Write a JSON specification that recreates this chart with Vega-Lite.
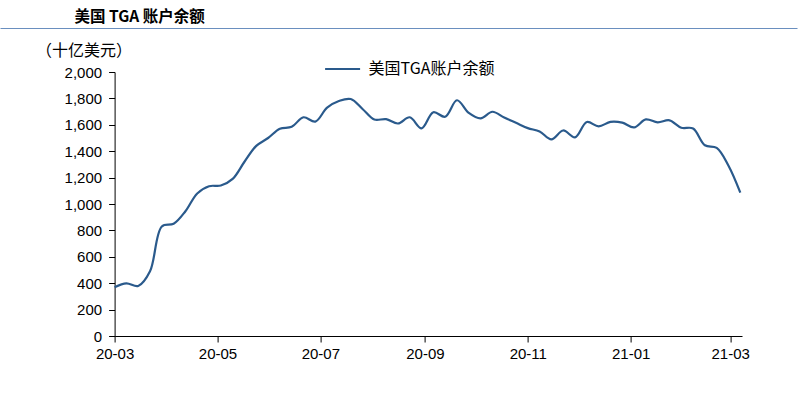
{
  "$schema": "https://vega.github.io/schema/vega-lite/v6.json",
  "width": 627.4,
  "height": 264,
  "autosize": {"type": "none"},
  "padding": {"left": 114.6, "top": 72, "right": 58, "bottom": 58},
  "background": "white",
  "title": {
    "text": "美国 TGA 账户余额",
    "anchor": "start",
    "frame": "group",
    "font": "Noto Sans CJK SC",
    "fontSize": 15.5,
    "fontWeight": "bold",
    "color": "#000000",
    "dx": -40,
    "offset": 3
  },
  "config": {
    "view": {"stroke": null},
    "axis": {"grid": false, "domainColor": "#000000", "tickColor": "#000000", "labelColor": "#000000", "labelFont": "Liberation Sans", "labelFontSize": 15}
  },
  "data": {
    "values": [
      {"date": "2020-03-04", "value": 370},
      {"date": "2020-03-11", "value": 399},
      {"date": "2020-03-18", "value": 379},
      {"date": "2020-03-25", "value": 490},
      {"date": "2020-04-01", "value": 830},
      {"date": "2020-04-08", "value": 850},
      {"date": "2020-04-15", "value": 945},
      {"date": "2020-04-22", "value": 1080},
      {"date": "2020-04-29", "value": 1135},
      {"date": "2020-05-06", "value": 1140},
      {"date": "2020-05-13", "value": 1190},
      {"date": "2020-05-20", "value": 1320},
      {"date": "2020-05-27", "value": 1440},
      {"date": "2020-06-03", "value": 1500},
      {"date": "2020-06-10", "value": 1570},
      {"date": "2020-06-17", "value": 1585},
      {"date": "2020-06-24", "value": 1657},
      {"date": "2020-07-01", "value": 1624},
      {"date": "2020-07-08", "value": 1730},
      {"date": "2020-07-15", "value": 1780},
      {"date": "2020-07-22", "value": 1795},
      {"date": "2020-07-29", "value": 1720},
      {"date": "2020-08-05", "value": 1640},
      {"date": "2020-08-12", "value": 1643},
      {"date": "2020-08-19", "value": 1610},
      {"date": "2020-08-26", "value": 1657},
      {"date": "2020-09-02", "value": 1573},
      {"date": "2020-09-09", "value": 1695},
      {"date": "2020-09-16", "value": 1661},
      {"date": "2020-09-23", "value": 1786},
      {"date": "2020-09-30", "value": 1690},
      {"date": "2020-10-07", "value": 1649},
      {"date": "2020-10-14", "value": 1699},
      {"date": "2020-10-21", "value": 1655},
      {"date": "2020-10-28", "value": 1615},
      {"date": "2020-11-04", "value": 1575},
      {"date": "2020-11-11", "value": 1550},
      {"date": "2020-11-18", "value": 1490},
      {"date": "2020-11-25", "value": 1557},
      {"date": "2020-12-02", "value": 1505},
      {"date": "2020-12-09", "value": 1621},
      {"date": "2020-12-16", "value": 1588},
      {"date": "2020-12-23", "value": 1622},
      {"date": "2020-12-30", "value": 1616},
      {"date": "2021-01-06", "value": 1580},
      {"date": "2021-01-13", "value": 1641},
      {"date": "2021-01-20", "value": 1619},
      {"date": "2021-01-27", "value": 1634},
      {"date": "2021-02-03", "value": 1578},
      {"date": "2021-02-10", "value": 1572},
      {"date": "2021-02-17", "value": 1445},
      {"date": "2021-02-24", "value": 1425},
      {"date": "2021-03-03", "value": 1290},
      {"date": "2021-03-10", "value": 1086}
    ]
  },
  "layer": [
    {
      "mark": {"type": "line", "interpolate": "catmull-rom", "strokeWidth": 2.2},
      "encoding": {
        "x": {
          "field": "date",
          "type": "temporal",
          "scale": {
            "type": "utc",
            "domain": [
              {"year": 2020, "month": 3, "date": 4, "utc": true},
              {"year": 2021, "month": 3, "date": 11, "utc": true}
            ]
          },
          "axis": {
            "title": null,
            "format": "%y-%m",
            "values": [
              {"year": 2020, "month": 3, "date": 4, "utc": true},
              {"year": 2020, "month": 5, "date": 4, "utc": true},
              {"year": 2020, "month": 7, "date": 4, "utc": true},
              {"year": 2020, "month": 9, "date": 4, "utc": true},
              {"year": 2020, "month": 11, "date": 4, "utc": true},
              {"year": 2021, "month": 1, "date": 4, "utc": true},
              {"year": 2021, "month": 3, "date": 4, "utc": true}
            ],
            "tickSize": 6,
            "labelPadding": 4,
            "labelFlush": false,
            "labelOverlap": false
          }
        },
        "y": {
          "field": "value",
          "type": "quantitative",
          "scale": {"domain": [0, 2000]},
          "axis": {
            "values": [0, 200, 400, 600, 800, 1000, 1200, 1400, 1600, 1800, 2000],
            "format": ",.0f",
            "tickSize": 6,
            "labelPadding": 7,
            "title": "（十亿美元）",
            "titleAngle": 0,
            "titleX": -31,
            "titleY": -22,
            "titleAlign": "center",
            "titleBaseline": "middle",
            "titleFont": "Noto Sans CJK SC",
            "titleFontSize": 16,
            "titleFontWeight": "normal",
            "titleColor": "#000000"
          }
        },
        "color": {
          "datum": "美国TGA账户余额",
          "type": "nominal",
          "scale": {"range": ["#2A5A8C"]},
          "legend": {
            "title": null,
            "orient": "none",
            "legendX": 209,
            "legendY": -22,
            "symbolType": "stroke",
            "symbolSize": 1225,
            "symbolStrokeWidth": 2.2,
            "labelFont": "Noto Sans CJK SC",
            "labelFontSize": 16,
            "labelColor": "#000000",
            "labelOffset": 7
          }
        }
      }
    },
    {
      "mark": {"type": "rule", "opacity": 0},
      "encoding": {
        "x": {
          "datum": 0,
          "type": "quantitative",
          "scale": {"domain": [0, 1], "range": [-114.6, 682.4]},
          "axis": {
            "orient": "top",
            "offset": 44,
            "ticks": false,
            "labels": false,
            "title": null,
            "domainColor": "#6A8FBF",
            "domainWidth": 1
          }
        }
      }
    }
  ],
  "resolve": {"scale": {"x": "independent", "color": "independent"}}
}
